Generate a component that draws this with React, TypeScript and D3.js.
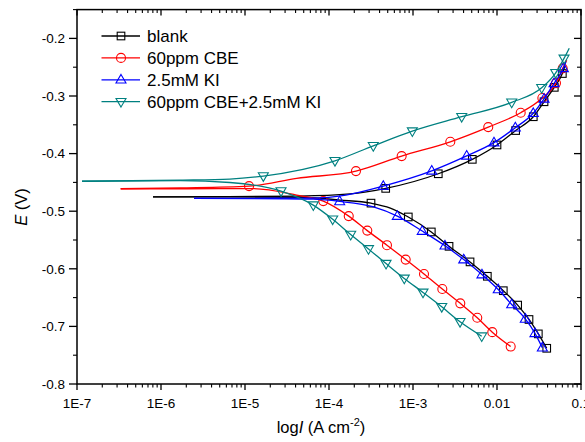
import React from "react";
import * as d3 from "d3";

// [log10(I), E (V), isMarker]
type P = [number, number, number];

const seriesNames = ["blank", "60ppm CBE", "2.5mM KI", "60ppm CBE+2.5mM KI"];

const blankCathodic: P[] = [
  [-6.095, -0.475, 0], [-5.2, -0.4752, 0], [-4.31, -0.476, 0], [-3.87, -0.4807, 0],
  [-3.5, -0.486, 1], [-3.27, -0.4945, 0], [-3.056, -0.51, 1], [-2.782, -0.536, 1],
  [-2.571, -0.561, 1], [-2.321, -0.588, 1], [-2.115, -0.613, 1], [-1.925, -0.638, 1],
  [-1.754, -0.663, 1], [-1.619, -0.688, 1], [-1.508, -0.713, 1], [-1.408, -0.738, 1],
];
const blankAnodic: P[] = [
  [-6.095, -0.475, 0], [-5.2, -0.4748, 0], [-4.35, -0.4738, 0], [-3.75, -0.47, 0],
  [-3.325, -0.4604, 1], [-2.699, -0.435, 1], [-2.294, -0.41, 1], [-2.0, -0.385, 1],
  [-1.778, -0.36, 1], [-1.568, -0.336, 1], [-1.44, -0.31, 1], [-1.318, -0.285, 1],
  [-1.222, -0.261, 1], [-1.19, -0.247, 0],
];

const cbeCathodic: P[] = [
  [-6.48, -0.461, 0], [-5.7, -0.461, 0], [-4.905, -0.4608, 0], [-4.385, -0.472, 0],
  [-4.068, -0.4825, 1], [-3.765, -0.5085, 1], [-3.544, -0.5337, 1], [-3.31, -0.559, 1],
  [-3.087, -0.584, 1], [-2.869, -0.609, 1], [-2.651, -0.635, 1], [-2.437, -0.66, 1],
  [-2.235, -0.685, 1], [-2.056, -0.71, 1], [-1.837, -0.735, 1],
];
const cbeAnodic: P[] = [
  [-6.48, -0.461, 0], [-5.77, -0.4595, 0], [-4.952, -0.4564, 1], [-4.385, -0.443, 0],
  [-3.679, -0.4304, 1], [-3.135, -0.4043, 1], [-2.556, -0.3795, 1], [-2.104, -0.354, 1],
  [-1.718, -0.329, 1], [-1.46, -0.3035, 1], [-1.298, -0.2776, 1], [-1.218, -0.252, 1],
  [-1.17, -0.238, 0],
];

const kiCathodic: P[] = [
  [-5.607, -0.4778, 0], [-4.9, -0.478, 0], [-4.19, -0.4792, 0], [-3.873, -0.483, 1],
  [-3.47, -0.4925, 0], [-3.187, -0.5085, 1], [-2.89, -0.5345, 1], [-2.619, -0.56, 1],
  [-2.396, -0.584, 1], [-2.179, -0.61, 1], [-1.985, -0.636, 1], [-1.825, -0.662, 1],
  [-1.663, -0.687, 1], [-1.548, -0.712, 1], [-1.46, -0.737, 1],
];
const kiAnodic: P[] = [
  [-5.607, -0.4778, 0], [-4.9, -0.4776, 0], [-4.19, -0.4772, 0], [-3.8, -0.472, 0],
  [-3.354, -0.4564, 1], [-2.777, -0.43, 1], [-2.361, -0.404, 1], [-2.036, -0.381, 1],
  [-1.782, -0.355, 1], [-1.568, -0.33, 1], [-1.44, -0.305, 1], [-1.321, -0.278, 1],
  [-1.21, -0.252, 1], [-1.18, -0.24, 0],
];

const mixCathodic: P[] = [
  [-6.94, -0.448, 0], [-5.77, -0.4468, 0], [-5.18, -0.4502, 0], [-4.571, -0.465, 1],
  [-4.187, -0.4894, 1], [-3.956, -0.514, 1], [-3.742, -0.5406, 1], [-3.53, -0.5655, 1],
  [-3.321, -0.591, 1], [-3.104, -0.6167, 1], [-2.881, -0.641, 1], [-2.658, -0.666, 1],
  [-2.44, -0.692, 1], [-2.182, -0.717, 1],
];
const mixAnodic: P[] = [
  [-6.94, -0.448, 0], [-5.77, -0.4462, 0], [-5.18, -0.4443, 0], [-4.782, -0.439, 1],
  [-3.929, -0.4125, 1], [-3.473, -0.3865, 1], [-3.008, -0.361, 1], [-2.42, -0.336, 1],
  [-1.825, -0.311, 1], [-1.468, -0.2858, 1], [-1.301, -0.2597, 1], [-1.202, -0.2347, 1],
  [-1.14, -0.217, 0],
];

const xTickValues = [1e-7, 1e-6, 1e-5, 1e-4, 1e-3, 0.01, 0.1];
const xTickLabels = ["1E-7", "1E-6", "1E-5", "1E-4", "1E-3", "0.01", "0.1"];
const yTickValues = [-0.8, -0.7, -0.6, -0.5, -0.4, -0.3, -0.2];
const yTickLabels = ["-0.8", "-0.7", "-0.6", "-0.5", "-0.4", "-0.3", "-0.2"];
const yMinorValues = [-0.75, -0.65, -0.55, -0.45, -0.35, -0.25, -0.15];

const colors = ["#000000", "#ff0000", "#0000ff", "#008080"];
const shapes = ["square", "circle", "triangleUp", "triangleDown"];
const branches: P[][][] = [
  [blankCathodic, blankAnodic],
  [cbeCathodic, cbeAnodic],
  [kiCathodic, kiAnodic],
  [mixCathodic, mixAnodic],
];

const W = 585, H = 442;
const L = 77, R = 581, T = 9.6, B = 384;
const FONT = "'Liberation Sans', Arial, sans-serif";

function Marker({ shape, x, y, color }: { shape: string; x: number; y: number; color: string }) {
  const common = { fill: "none", stroke: color, strokeWidth: 1.1 };
  if (shape === "square") return <rect x={x - 3.8} y={y - 3.8} width={7.6} height={7.6} {...common} />;
  if (shape === "circle") return <circle cx={x} cy={y} r={4.5} {...common} />;
  const h = 8.6, w = 5;
  if (shape === "triangleUp")
    return <path d={`M${x},${y - h * 0.62}L${x + w},${y + h * 0.38}L${x - w},${y + h * 0.38}Z`} {...common} />;
  return <path d={`M${x},${y + h * 0.62}L${x + w},${y - h * 0.38}L${x - w},${y - h * 0.38}Z`} {...common} />;
}

export default function App() {
  const x = d3.scaleLog().domain([1e-7, 0.1]).range([L, R]);
  const y = d3.scaleLinear().domain([-0.8, -0.15]).range([B, T]);
  const line = d3
    .line<P>()
    .x((d) => x(Math.pow(10, d[0])))
    .y((d) => y(d[1]))
    .curve(d3.curveMonotoneX);

  const xMinor: number[] = [];
  for (let e = -7; e < -1; e++) for (let k = 2; k <= 9; k++) xMinor.push(k * Math.pow(10, e));

  return (
    <svg width={W} height={H} style={{ position: "absolute", left: 0, top: 0, background: "#fff" }} fontFamily={FONT}>
      <defs>
        <clipPath id="plot">
          <rect x={L} y={T} width={R - L} height={B - T} />
        </clipPath>
      </defs>

      {/* data */}
      <g clipPath="url(#plot)">
        {branches.map((br, i) => (
          <g key={i}>
            {br.map((pts, j) => (
              <path key={j} d={line(pts) || ""} fill="none" stroke={colors[i]} strokeWidth={1.3} />
            ))}
            {br.map((pts, j) =>
              pts
                .filter((p) => p[2] === 1)
                .map((p, k) => (
                  <Marker key={`${j}-${k}`} shape={shapes[i]} x={x(Math.pow(10, p[0]))} y={y(p[1])} color={colors[i]} />
                ))
            )}
          </g>
        ))}
      </g>

      {/* frame */}
      <rect x={L} y={T} width={R - L} height={B - T} fill="none" stroke="#000" strokeWidth={1.5} />

      {/* x ticks bottom (outward) & top (inward) */}
      {xTickValues.map((v, i) => (
        <g key={`xt${i}`}>
          <line x1={x(v)} x2={x(v)} y1={B} y2={B + 6} stroke="#000" strokeWidth={1.3} />
          <line x1={x(v)} x2={x(v)} y1={T} y2={T + 6} stroke="#000" strokeWidth={1.3} />
          <text x={x(v)} y={408} textAnchor="middle" fontSize={13.5} fill="#000">
            {xTickLabels[i]}
          </text>
        </g>
      ))}
      {xMinor.map((v, i) => (
        <g key={`xm${i}`}>
          <line x1={x(v)} x2={x(v)} y1={B} y2={B + 3.5} stroke="#000" strokeWidth={1.1} />
          <line x1={x(v)} x2={x(v)} y1={T} y2={T + 3.5} stroke="#000" strokeWidth={1.1} />
        </g>
      ))}

      {/* y ticks left (outward) & right (inward) */}
      {yTickValues.map((v, i) => (
        <g key={`yt${i}`}>
          <line x1={L - 8} x2={L} y1={y(v)} y2={y(v)} stroke="#000" strokeWidth={1.3} />
          <line x1={R - 7} x2={R} y1={y(v)} y2={y(v)} stroke="#000" strokeWidth={1.3} />
          <text x={65} y={y(v)} dy="0.36em" textAnchor="end" fontSize={13.5} fill="#000">
            {yTickLabels[i]}
          </text>
        </g>
      ))}
      {yMinorValues.map((v, i) => (
        <g key={`ym${i}`}>
          <line x1={L - 4} x2={L} y1={y(v)} y2={y(v)} stroke="#000" strokeWidth={1.1} />
          <line x1={R - 4} x2={R} y1={y(v)} y2={y(v)} stroke="#000" strokeWidth={1.1} />
        </g>
      ))}

      {/* axis titles */}
      <text transform="translate(27,207) rotate(-90)" textAnchor="middle" fontSize={16.5} fill="#000">
        <tspan fontStyle="italic">E</tspan>
        <tspan> (V)</tspan>
      </text>
      <text x={321} y={433} textAnchor="middle" fontSize={16.5} fill="#000">
        <tspan>log</tspan>
        <tspan fontStyle="italic">I</tspan>
        <tspan> (A cm</tspan>
        <tspan dy={-7} fontSize={11}>-2</tspan>
        <tspan dy={7}>)</tspan>
      </text>

      {/* legend */}
      {seriesNames.map((name, i) => {
        const ly = 36 + i * 21.9;
        return (
          <g key={`lg${i}`}>
            <line x1={101.5} x2={140} y1={ly} y2={ly} stroke={colors[i]} strokeWidth={1.3} />
            <Marker shape={shapes[i]} x={121} y={ly} color={colors[i]} />
            <text x={147} y={ly} dy="0.36em" fontSize={17} fill="#000">
              {name}
            </text>
          </g>
        );
      })}
    </svg>
  );
}
